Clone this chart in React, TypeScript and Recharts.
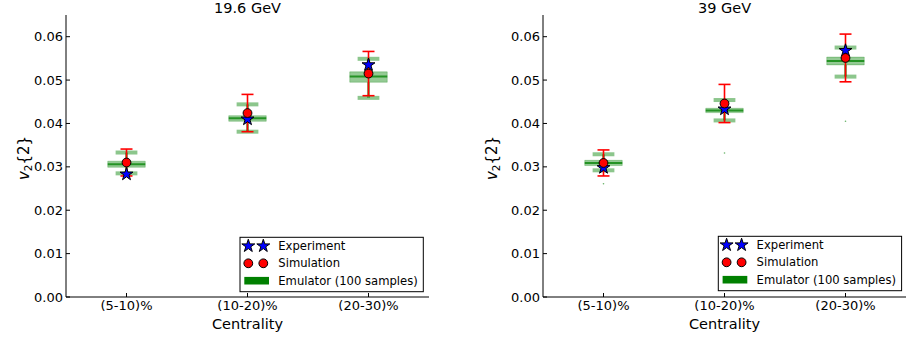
import React from "react";
import {
  ComposedChart,
  XAxis,
  YAxis,
  Scatter,
  ErrorBar,
  ReferenceArea,
  ReferenceLine,
  Symbols,
} from "recharts";

const categories = ["(5-10)%", "(10-20)%", "(20-30)%"];
const yTicks = [0, 0.01, 0.02, 0.03, 0.04, 0.05, 0.06];

// 19.6 GeV
const exp19 = [0.0283, 0.041, 0.0535];
const sim19 = [0.031, 0.0424, 0.0515];
const simErr19 = [0.0031, 0.0043, 0.0051];
const median19 = [0.0306, 0.0412, 0.0508];
const q1_19 = [0.0299, 0.0405, 0.0495];
const q3_19 = [0.0313, 0.0418, 0.0519];
const whiskLo19 = [0.0285, 0.0381, 0.0459];
const whiskHi19 = [0.0333, 0.0444, 0.0549];
const outliers19: number[] = [];

// 39 GeV
const exp39 = [0.0298, 0.0433, 0.0568];
const sim39 = [0.0309, 0.0446, 0.0551];
const simErr39 = [0.003, 0.0044, 0.0055];
const median39 = [0.0309, 0.043, 0.0544];
const q1_39 = [0.0303, 0.0425, 0.0535];
const q3_39 = [0.0315, 0.0435, 0.0553];
const whiskLo39 = [0.0292, 0.0407, 0.0508];
const whiskHi39 = [0.0329, 0.0454, 0.0575];
const outliers39 = [0.0261, 0.0332, 0.0405];

const FONT = "'DejaVu Sans', sans-serif";
const GREEN = "#008000";
const BOX_HALF = 0.155;
const CAP_HALF = 0.09;
const STAR_SIZE = 52;

const StarShape = (p: any) => (
  <Symbols cx={p.cx} cy={p.cy} type="star" size={STAR_SIZE} fill="#0000ff" stroke="#000" strokeWidth={1} />
);
const CircleShape = (p: any) => (
  <circle cx={p.cx} cy={p.cy} r={4.4} fill="#ff0000" stroke="#000" strokeWidth={1} />
);
const DotShape = (p: any) => <circle cx={p.cx} cy={p.cy} r={0.8} fill={GREEN} opacity={0.6} />;
const NoShape = () => <g />;

type PanelProps = {
  left: number;
  width: number;
  yAxisWidth: number;
  marginRight: number;
  exp: number[];
  sim: number[];
  simErr: number[];
  med: number[];
  q1: number[];
  q3: number[];
  lo: number[];
  hi: number[];
  out: number[];
};

function Panel(p: PanelProps) {
  const expData = p.exp.map((y, i) => ({ x: i, y }));
  const simData = p.sim.map((y, i) => ({ x: i, y, err: p.simErr[i] }));
  const outData = p.out.map((y, i) => ({ x: i, y }));

  return (
    <div style={{ position: "absolute", left: p.left, top: 0 }}>
      <ComposedChart
        width={p.width}
        height={339}
        margin={{ top: 15, right: p.marginRight, bottom: 12, left: 0 }}
        style={{ fontFamily: FONT }}
      >
        <XAxis
          dataKey="x"
          type="number"
          domain={[-0.5, 2.5]}
          allowDataOverflow
          ticks={[0, 1, 2]}
          interval={0}
          tickFormatter={(v: number) => categories[v]}
          height={30}
          tickSize={-4}
          tickMargin={8}
          stroke="#000"
          tick={{ fill: "#000", fontSize: 13 }}
        />
        <XAxis
          xAxisId="top"
          orientation="top"
          type="number"
          domain={[-0.5, 2.5]}
          allowDataOverflow
          ticks={[0, 1, 2]}
          height={0}
          tick={false}
          tickSize={-4}
          stroke="#000"
        />
        <YAxis
          dataKey="y"
          type="number"
          domain={[0, 0.065]}
          allowDataOverflow
          ticks={yTicks}
          interval={0}
          tickFormatter={(v: number) => v.toFixed(2)}
          width={p.yAxisWidth}
          tickSize={-4}
          tickMargin={7}
          stroke="#000"
          tick={{ fill: "#000", fontSize: 13 }}
        />
        <YAxis
          yAxisId="right"
          orientation="right"
          type="number"
          domain={[0, 0.065]}
          allowDataOverflow
          ticks={yTicks}
          width={0}
          tick={false}
          tickSize={-4}
          stroke="#000"
        />

        {categories.map((_, i) => (
          <ReferenceArea
            key={`box${i}`}
            x1={i - BOX_HALF}
            x2={i + BOX_HALF}
            y1={p.q1[i]}
            y2={p.q3[i]}
            fill={GREEN}
            fillOpacity={0.42}
            stroke={GREEN}
            strokeOpacity={0.25}
          />
        ))}
        {categories.map((_, i) => (
          <ReferenceLine
            key={`wlo${i}`}
            segment={[{ x: i, y: p.lo[i] }, { x: i, y: p.q1[i] }]}
            stroke={GREEN}
            strokeOpacity={0.5}
            strokeWidth={3}
          />
        ))}
        {categories.map((_, i) => (
          <ReferenceLine
            key={`whi${i}`}
            segment={[{ x: i, y: p.q3[i] }, { x: i, y: p.hi[i] }]}
            stroke={GREEN}
            strokeOpacity={0.5}
            strokeWidth={3}
          />
        ))}
        {categories.map((_, i) => (
          <ReferenceLine
            key={`clo${i}`}
            segment={[{ x: i - CAP_HALF, y: p.lo[i] }, { x: i + CAP_HALF, y: p.lo[i] }]}
            stroke={GREEN}
            strokeOpacity={0.45}
            strokeWidth={4}
          />
        ))}
        {categories.map((_, i) => (
          <ReferenceLine
            key={`chi${i}`}
            segment={[{ x: i - CAP_HALF, y: p.hi[i] }, { x: i + CAP_HALF, y: p.hi[i] }]}
            stroke={GREEN}
            strokeOpacity={0.45}
            strokeWidth={4}
          />
        ))}
        {categories.map((_, i) => (
          <ReferenceLine
            key={`med${i}`}
            segment={[{ x: i - BOX_HALF, y: p.med[i] }, { x: i + BOX_HALF, y: p.med[i] }]}
            stroke={GREEN}
            strokeOpacity={0.75}
            strokeWidth={2}
          />
        ))}

        <Scatter data={outData} shape={DotShape} isAnimationActive={false} />
        <Scatter data={simData} shape={NoShape} isAnimationActive={false}>
          <ErrorBar dataKey="err" direction="y" width={6} stroke="#ff0000" strokeWidth={1.6} />
        </Scatter>
        <Scatter data={expData} shape={StarShape} isAnimationActive={false} />
        <Scatter data={simData} shape={CircleShape} isAnimationActive={false} />
      </ComposedChart>
    </div>
  );
}

function LegendBox({ x, y }: { x: number; y: number }) {
  const rows = [y + 8.7, y + 26, y + 43.4];
  return (
    <g>
      <rect x={x} y={y} width={183.3} height={54.4} fill="#fff" stroke="#000" strokeWidth={1} />
      <Symbols cx={x + 8.3} cy={rows[0]} type="star" size={STAR_SIZE} fill="#0000ff" stroke="#000" strokeWidth={1} />
      <Symbols cx={x + 23.3} cy={rows[0]} type="star" size={STAR_SIZE} fill="#0000ff" stroke="#000" strokeWidth={1} />
      <circle cx={x + 8.3} cy={rows[1]} r={4.4} fill="#ff0000" stroke="#000" strokeWidth={1} />
      <circle cx={x + 23.3} cy={rows[1]} r={4.4} fill="#ff0000" stroke="#000" strokeWidth={1} />
      <rect x={x + 4.3} y={rows[2] - 3.8} width={24.7} height={7.6} fill={GREEN} />
      <text x={x + 38.3} y={rows[0]} dy="0.35em" fontSize={11.6}>Experiment</text>
      <text x={x + 38.3} y={rows[1]} dy="0.35em" fontSize={11.6}>Simulation</text>
      <text x={x + 38.3} y={rows[2]} dy="0.35em" fontSize={11.6}>Emulator (100 samples)</text>
    </g>
  );
}

function YLabel({ x, y }: { x: number; y: number }) {
  return (
    <text transform={`rotate(-90 ${x} ${y})`} x={x} y={y} dy="0.35em" textAnchor="middle" fontSize={15}>
      <tspan fontStyle="italic">v</tspan>
      <tspan fontSize={10.5} dy={3}>2</tspan>
      <tspan dy={-3}>{"{2}"}</tspan>
    </text>
  );
}

export default function App() {
  return (
    <div style={{ position: "absolute", left: 0, top: 0, width: 906, height: 339, background: "#fff", fontFamily: FONT }}>
      <Panel
        left={0}
        width={440}
        yAxisWidth={66}
        marginRight={11}
        exp={exp19}
        sim={sim19}
        simErr={simErr19}
        med={median19}
        q1={q1_19}
        q3={q3_19}
        lo={whiskLo19}
        hi={whiskHi19}
        out={outliers19}
      />
      <Panel
        left={450}
        width={456}
        yAxisWidth={93}
        marginRight={0}
        exp={exp39}
        sim={sim39}
        simErr={simErr39}
        med={median39}
        q1={q1_39}
        q3={q3_39}
        lo={whiskLo39}
        hi={whiskHi39}
        out={outliers39}
      />
      <svg
        width={906}
        height={339}
        style={{ position: "absolute", left: 0, top: 0, pointerEvents: "none", fontFamily: FONT }}
      >
        <text x={247.5} y={13} textAnchor="middle" fontSize={14.5}>19.6 GeV</text>
        <text x={724.5} y={13} textAnchor="middle" fontSize={14.5}>39 GeV</text>
        <text x={247.5} y={328.5} textAnchor="middle" fontSize={14.5}>Centrality</text>
        <text x={724.5} y={328.5} textAnchor="middle" fontSize={14.5}>Centrality</text>
        <YLabel x={24} y={158} />
        <YLabel x={492} y={158} />
        <LegendBox x={240} y={237.3} />
        <LegendBox x={718.3} y={236.3} />
      </svg>
    </div>
  );
}
